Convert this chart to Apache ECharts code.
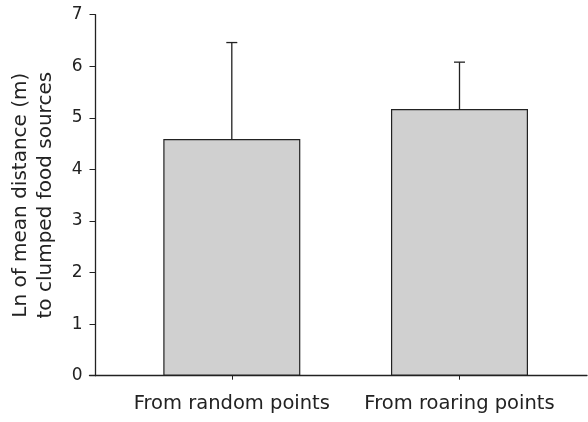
<!DOCTYPE html>
<html>
<head>
<meta charset="utf-8">
<script src="https://cdn.jsdelivr.net/npm/echarts@6/dist/echarts.min.js"></script>
<style>html,body{margin:0;padding:0;background:#fff;}#c{width:588px;height:422px;}</style>
</head>
<body>
<div id="c"></div>
<script>
const categories = ["From random points", "From roaring points"];
const means = [4.59, 5.17];
const upperErr = [6.46, 6.08];
const yTicks = [0, 1, 2, 3, 4, 5, 6, 7];

const pos = categories.map((c, i) => i + 1);
const barData = means.map((v, i) => [pos[i], v]);
const errData = upperErr.map((v, i) => [pos[i], means[i], v]);

const chart = echarts.init(document.getElementById('c'), null, {renderer: 'canvas'});
const font = 'DejaVu Sans, Liberation Sans, Arial, sans-serif';
chart.setOption({
  animation: false,
  grid: {left: 88, right: 1, top: 14.7, bottom: 46.3, containLabel: false},
  xAxis: {
    type: 'value', min: 0.375, max: 2.56,
    splitLine: {show: false},
    axisLine: {show: true, onZero: false, lineStyle: {color: '#222', width: 1.3}},
    axisTick: {show: true, customValues: pos, length: 4, lineStyle: {color: '#222'}},
    axisLabel: {show: true, customValues: pos, margin: 18, fontSize: 19.5, color: '#222', fontFamily: font,
      formatter: v => categories[Math.round(v) - 1] || ''}
  },
  yAxis: {
    type: 'value', min: yTicks[0], max: yTicks[yTicks.length - 1], interval: 1, offset: -6,
    splitLine: {show: false},
    axisLine: {show: true, lineStyle: {color: '#222', width: 1.3}},
    axisTick: {show: true, length: 6, lineStyle: {color: '#222'}},
    axisLabel: {fontSize: 17, color: '#222', margin: 13, fontFamily: font},
    name: 'Ln of mean distance (m)\nto clumped food sources',
    nameLocation: 'middle', nameRotate: 90, nameGap: 37.5,
    nameTextStyle: {fontSize: 20, color: '#222', fontFamily: font, lineHeight: 25}
  },
  series: [
    {
      type: 'bar', data: barData, barWidth: 137,
      itemStyle: {color: '#d0d0d0', borderColor: '#222', borderWidth: 1.2}
    },
    {
      type: 'custom', data: errData, z: 1,
      renderItem: function (params, api) {
        const x = api.value(0);
        const lo = api.coord([x, api.value(1)]);
        const hi = api.coord([x, api.value(2)]);
        const half = 5.5;
        return {
          type: 'group',
          children: [
            {type: 'line', shape: {x1: lo[0], y1: lo[1], x2: hi[0], y2: hi[1]}, style: {stroke: '#222', lineWidth: 1.3}},
            {type: 'line', shape: {x1: hi[0] - half, y1: hi[1], x2: hi[0] + half, y2: hi[1]}, style: {stroke: '#222', lineWidth: 1.3}}
          ]
        };
      }
    }
  ]
});
</script>
</body>
</html>
